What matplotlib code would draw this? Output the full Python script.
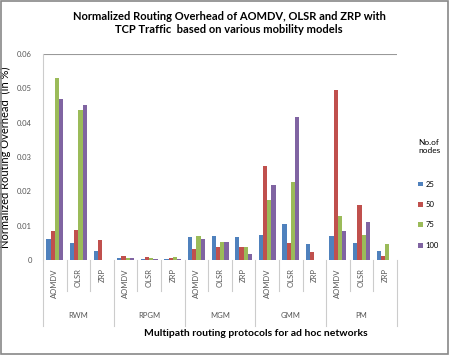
import matplotlib.pyplot as plt
import matplotlib.transforms as mtransforms
import numpy as np

plt.rcParams['font.family'] = ['Lato', 'DejaVu Sans']

models = ['RWM', 'RPGM', 'MGM', 'GMM', 'PM']
protocols = ['AOMDV', 'OLSR', 'ZRP']
nodes = ['25', '50', '75', '100']

# values per model, order AOMDV, OLSR, ZRP
n25 = [0.0061, 0.0050, 0.0026,
       0.0005, 0.0003, 0.0002,
       0.0067, 0.0070, 0.0067,
       0.0073, 0.0105, 0.0047,
       0.0070, 0.0050, 0.0026]
n50 = [0.0084, 0.0087, 0.0058,
       0.0010, 0.0008, 0.0004,
       0.0032, 0.0038, 0.0038,
       0.0273, 0.0050, 0.0023,
       0.0494, 0.0160, 0.0010]
n75 = [0.0530, 0.0436, 0.0,
       0.0005, 0.0004, 0.0008,
       0.0070, 0.0052, 0.0037,
       0.0174, 0.0227, 0.0,
       0.0128, 0.0073, 0.0047]
n100 = [0.0470, 0.0450, 0.0,
        0.0004, 0.0003, 0.0003,
        0.0061, 0.0052, 0.0017,
        0.0218, 0.0416, 0.0,
        0.0084, 0.0110, 0.0]

colors = ['#4F81BD', '#C0504D', '#9BBB59', '#8064A2']

fig = plt.figure(figsize=(4.49, 3.55), dpi=100)
ax = fig.add_axes([0.096, 0.268, 0.788, 0.58])

x = np.arange(len(n25))
w = 0.18
for i, (vals, c, lab) in enumerate(zip([n25, n50, n75, n100], colors, nodes)):
    ax.bar(x + (i - 1.5) * w, vals, w, color=c, label=lab)

ax.set_xlim(-0.5, len(x) - 0.5)
ax.set_ylim(0, 0.06)
ax.set_yticks(np.arange(0, 0.061, 0.01))
ax.set_yticklabels(['0', '0.01', '0.02', '0.03', '0.04', '0.05', '0.06'],
                   fontsize=5.5, color='#555555')
ax.axhline(0.06, color='#999999', lw=0.8)
for s in ['top', 'right', 'bottom']:
    ax.spines[s].set_visible(False)
ax.spines['left'].set_color('#cccccc')
ax.tick_params(axis='y', length=0, pad=8)

ax.set_xticks(x)
ax.set_xticklabels(protocols * len(models), rotation=90, fontsize=5.5, color='#555555')
ax.tick_params(axis='x', length=0, pad=6)

trans = mtransforms.blended_transform_factory(ax.transData, ax.transAxes)
for k in range(len(x) + 1):
    pos = k - 0.5
    y_end = -0.32 if k % 3 == 0 else -0.15
    ax.plot([pos, pos], [0, y_end], color='#cccccc', lw=0.8,
            transform=trans, clip_on=False)
for g, m in enumerate(models):
    ax.text(g * 3 + 1, -0.27, m, transform=trans, ha='center', va='center',
            fontsize=5.5, color='#555555')

ax.set_ylabel('Normalized Routing Overhead  (In %)', fontsize=8, labelpad=4)
fig.text(0.57, 0.06, 'Multipath routing protocols for ad hoc networks',
         ha='center', va='center', fontsize=7.5, fontweight='bold')
fig.text(0.51, 0.935, 'Normalized Routing Overhead of AOMDV, OLSR and ZRP with\nTCP Traffic  based on various mobility models',
         ha='center', va='center', fontsize=8, fontweight='bold', linespacing=1.3)

leg = ax.legend(title='No.of\nnodes', loc='upper left', bbox_to_anchor=(1.04, 0.62),
                frameon=False, fontsize=5.5, title_fontsize=6,
                handlelength=0.6, handleheight=0.6, labelspacing=1.75,
                handletextpad=0.4)
leg._legend_box.align = 'left'
leg._legend_box.sep = 19

fig.patches.append(plt.Rectangle((0.003, 0.003), 0.994, 0.994, transform=fig.transFigure,
                                 fill=False, edgecolor='#888888', lw=1.2))

fig.savefig('out.png', dpi=100)
